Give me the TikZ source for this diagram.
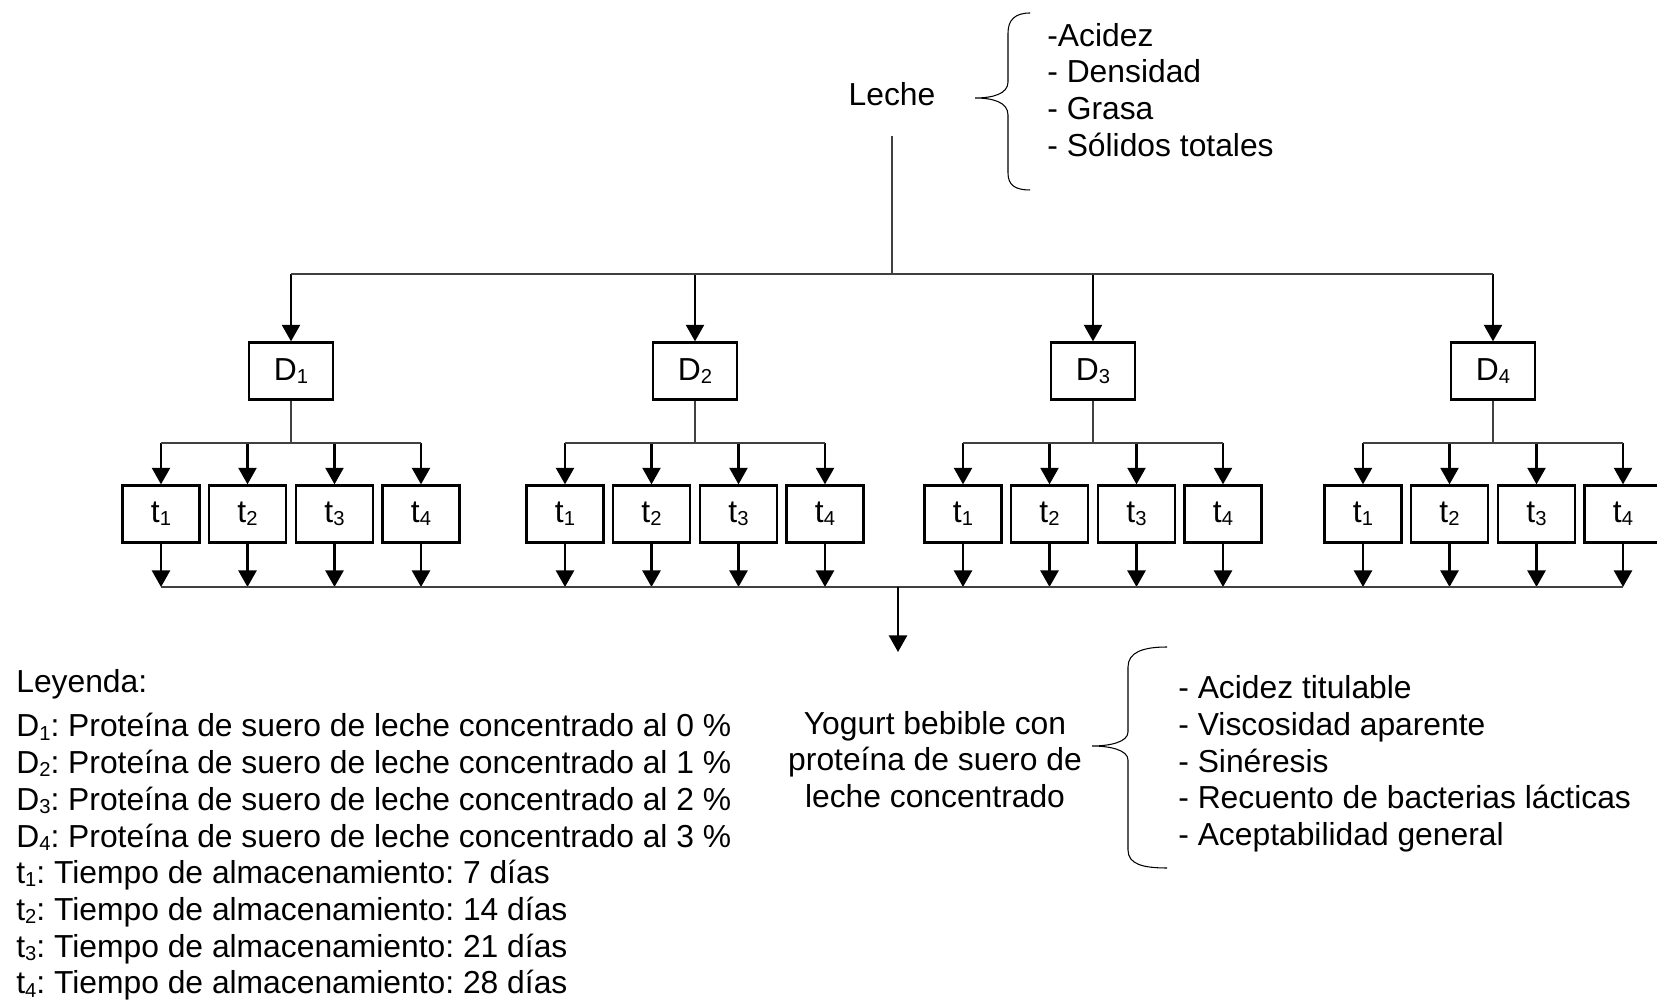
\documentclass[tikz,border=0pt]{standalone}
\usepackage{fontspec}
\setmainfont{Liberation Sans}
\usetikzlibrary{arrows.meta}
\frenchspacing
\newcommand{\sub}[1]{\raisebox{-0.1em}{\fontsize{11.5}{11.5}\selectfont #1}}

\begin{document}
\begin{tikzpicture}[
  font=\fontsize{18.1}{20.9}\selectfont, inner sep=0pt,
  dbox/.style={draw, line width=1.3pt, minimum width=1.68cm, minimum height=1.14cm},
  tbox/.style={draw, line width=1.3pt, minimum width=1.54cm, minimum height=1.14cm},
  arr/.style={-{Triangle[width=0.36cm,length=0.33cm]}, line width=1.3pt},
  thinline/.style={black!75, line width=0.65pt},
  brace/.style={line width=0.6pt}
]
\useasboundingbox (0,0) rectangle (33.14,20);

% Leche and its analyses
\node (leche) at (17.84,18.12) {Leche};
\node[align=left, anchor=west] (leche-an) at (20.94,18.2) {-Acidez\\- Densidad\\- Grasa\\- Sólidos totales};
\draw[brace] (20.6,19.74) .. controls (20.3,19.74) and (20.16,19.6) .. (20.16,19.34) -- (20.16,18.36)
  .. controls (20.16,18.12) and (19.85,18.04) .. (19.5,18.04)
  .. controls (19.85,18.04) and (20.16,17.96) .. (20.16,17.7) -- (20.16,16.54)
  .. controls (20.16,16.3) and (20.3,16.2) .. (20.6,16.2);

% Split into the four treatments
\coordinate (top) at (17.84,14.52);
\draw[thinline, shorten <=0.6cm] (leche.south) -- (top);

\foreach \i/\x in {1/5.82,2/13.9,3/21.86,4/29.86}{
  \node[dbox] (D\i) at (\x,12.58) {D\sub{\i}};
  \coordinate (branch\i) at (\x,11.14);
  \draw[arr] (D\i |- top) -- (D\i);
  \draw[thinline] (D\i) -- (branch\i);
  % storage times
  \foreach \k/\dx in {1/-2.6,2/-0.87,3/0.87,4/2.6}{
    \node[tbox] (t\i\k) at (\x+\dx,9.72) {t\sub{\k}};
    \draw[arr] (t\i\k |- branch\i) -- (t\i\k);
  }
  \draw[thinline] (t\i1 |- branch\i) -- (t\i4 |- branch\i);
}
\draw[thinline] (D1 |- top) -- (D4 |- top);

% Merge
\coordinate (merge) at (17.96,8.26);
\coordinate (prod) at (17.96,6.96);
\foreach \i in {1,2,3,4}{
  \foreach \k in {1,2,3,4}
    \draw[arr] (t\i\k) -- (t\i\k |- merge);
}
\draw[thinline] (t11 |- merge) -- (t44 |- merge);
\draw[arr] (merge) -- (prod);

% Product and its analyses
\node[align=center] (yogurt) at (18.7,4.81) {Yogurt bebible con\\proteína de suero de\\leche concentrado};
\node[align=left, anchor=west] (yogurt-an) at (23.56,4.72) {- Acidez titulable\\- Viscosidad aparente\\- Sinéresis\\- Recuento de bacterias lácticas\\- Aceptabilidad general};
\draw[brace] (23.34,7.06) .. controls (22.85,7.06) and (22.56,6.95) .. (22.56,6.66) -- (22.56,5.36)
  .. controls (22.56,5.16) and (22.2,5.08) .. (21.84,5.08)
  .. controls (22.2,5.08) and (22.56,5.0) .. (22.56,4.8) -- (22.56,3.0)
  .. controls (22.56,2.72) and (22.85,2.64) .. (23.34,2.64);

% Legend
\node[anchor=west] (leyenda) at (0.32,6.32) {Leyenda:};
\node[align=left, anchor=west] (legend) at (0.32,2.86) {D\sub{1}: Proteína de suero de leche concentrado al 0 \%\\
D\sub{2}: Proteína de suero de leche concentrado al 1 \%\\
D\sub{3}: Proteína de suero de leche concentrado al 2 \%\\
D\sub{4}: Proteína de suero de leche concentrado al 3 \%\\
t\sub{1}: Tiempo de almacenamiento: 7 días\\
t\sub{2}: Tiempo de almacenamiento: 14 días\\
t\sub{3}: Tiempo de almacenamiento: 21 días\\
t\sub{4}: Tiempo de almacenamiento: 28 días};
\end{tikzpicture}
\end{document}
